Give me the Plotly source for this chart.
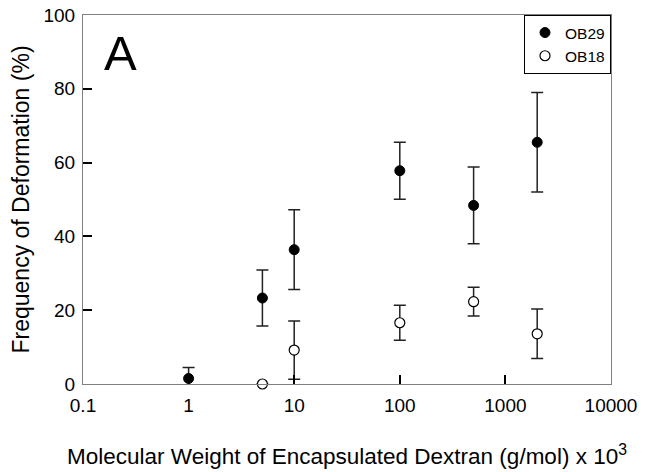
import plotly.graph_objects as go

# Data
ob29_x = [1, 5, 10, 100, 500, 2000]
ob29_y = [1.5, 23.3, 36.4, 57.8, 48.4, 65.5]
ob29_err = [3.0, 7.6, 10.8, 7.7, 10.4, 13.5]

ob18_x = [5, 10, 100, 500, 2000]
ob18_y = [0.0, 9.2, 16.6, 22.3, 13.6]
ob18_err = [0.0, 7.9, 4.75, 3.9, 6.7]

x_ticks = [0.1, 1, 10, 100, 1000, 10000]
x_ticktext = ["0.1", "1", "10", "100", "1000", "10000"]
y_ticks = [0, 20, 40, 60, 80, 100]

FONT = "Liberation Sans, Arial, sans-serif"

fig = go.Figure()
fig.add_trace(go.Scatter(
    x=ob29_x, y=ob29_y, mode="markers", name="OB29",
    marker=dict(symbol="circle", size=10, color="black", line=dict(color="black", width=1)),
    error_y=dict(type="data", array=ob29_err, visible=True, color="#222222", thickness=1.5, width=6),
    cliponaxis=False,
))
fig.add_trace(go.Scatter(
    x=ob18_x, y=ob18_y, mode="markers", name="OB18",
    marker=dict(symbol="circle", size=10, color="white", line=dict(color="black", width=1.2)),
    error_y=dict(type="data", array=ob18_err, visible=True, color="#222222", thickness=1.5, width=6),
    cliponaxis=False,
))

fig.update_layout(
    width=645, height=472,
    margin=dict(l=75, r=42, t=7, b=96, autoexpand=False),
    paper_bgcolor="white", plot_bgcolor="white",
    font=dict(family=FONT, color="black", size=19),
    showlegend=True,
    legend=dict(
        x=1, y=1, xanchor="right", yanchor="top",
        bordercolor="black", borderwidth=1, bgcolor="white",
        font=dict(size=15.5, family=FONT),
        tracegroupgap=0, itemwidth=30,
    ),
    xaxis=dict(
        type="log", range=[-1, 4], automargin=False,
        tickmode="array", tickvals=x_ticks, ticktext=x_ticktext,
        ticks="inside", ticklen=9, tickwidth=2, tickcolor="black",
        showline=True, linecolor="#808080", linewidth=1, mirror=True,
        showgrid=False, zeroline=False,
        tickfont=dict(size=19), ticklabelstandoff=4, ticklabeloverflow="allow",
        title=dict(text="Molecular Weight of Encapsulated Dextran (g/mol) x 10<sup>3</sup>",
                   font=dict(size=22.5), standoff=33),
    ),
    yaxis=dict(
        range=[0, 100], automargin=False,
        tickmode="array", tickvals=y_ticks,
        ticks="inside", ticklen=9, tickwidth=2, tickcolor="black",
        showline=True, linecolor="#808080", linewidth=1, mirror=True,
        showgrid=False, zeroline=False,
        tickfont=dict(size=19), ticklabelstandoff=3, ticklabeloverflow="allow",
        title=dict(text="Frequency of Deformation (%)", font=dict(size=23), standoff=30),
    ),
    annotations=[dict(
        text="A", x=0.036, y=0.975, xref="paper", yref="paper",
        xanchor="left", yanchor="top", showarrow=False,
        font=dict(size=49, family=FONT, color="black"),
    )],
)

fig.write_html("out.html")
